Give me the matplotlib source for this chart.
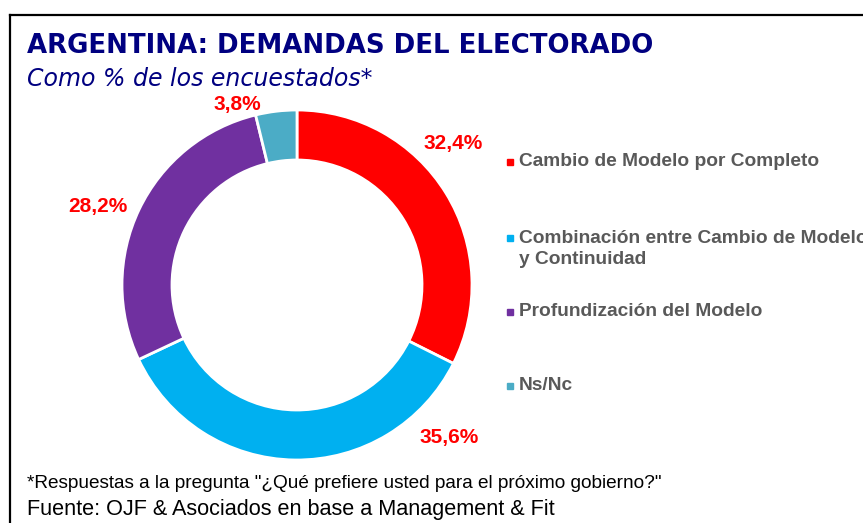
import matplotlib
matplotlib.use("Agg")
import matplotlib.pyplot as plt
from matplotlib import font_manager
from matplotlib.lines import Line2D
from matplotlib.patches import Rectangle

# data
labels = ['Cambio de Modelo por Completo',
          'Combinación entre Cambio de Modelo\ny Continuidad',
          'Profundización del Modelo',
          'Ns/Nc']
values = [32.4, 35.6, 28.2, 3.8]
colors = ['#FF0000', '#00B0F0', '#7030A0', '#4BACC6']

# where excel left the data labels (data units, radius = 1)
label_xy = [(0.89, 0.81), (0.87, -0.87), (-1.14, 0.45), (-0.34, 1.03)]

names = {f.name for f in font_manager.fontManager.ttflist}
narrow = 'Liberation Sans Narrow' in names
foot_font = 'Liberation Sans Narrow' if narrow else 'Liberation Sans'
foot_sizes = (16.4, 18.7) if narrow else (13.7, 15.6)

W, H = 863, 523
fig = plt.figure(figsize=(W / 100, H / 100), dpi=100)

# pie axes centred at (297, 285) px, outer radius 175 px
cx, cy, half = 297, 285, 200
ax = fig.add_axes([(cx - half) / W, (H - cy - half) / H, 2 * half / W, 2 * half / H])
wedges, _ = ax.pie(values, colors=colors, startangle=90, counterclock=False,
                   radius=1, wedgeprops=dict(width=50 / 175, edgecolor='white', linewidth=2))
lim = half / 175
ax.set_xlim(-lim, lim)
ax.set_ylim(-lim, lim)
ax.set_aspect('equal')
ax.axis('off')

for v, (x, y) in zip(values, label_xy):
    ax.text(x, y, f'{v:.1f}%'.replace('.', ','), ha='center', va='center',
            color='#FF0000', fontsize=15, fontweight='bold', family='Liberation Sans')

# frame (left and top edges only, the rest is cut off)
fig.add_artist(Line2D([9.5 / W, 9.5 / W], [0, 1 - 14.5 / H], color='black', lw=1.6,
                      transform=fig.transFigure))
fig.add_artist(Line2D([9.5 / W, 1], [1 - 14.5 / H, 1 - 14.5 / H], color='black', lw=1.6,
                      transform=fig.transFigure))

# titles
fig.text(27 / W, 1 - 46 / H, 'ARGENTINA: DEMANDAS DEL ELECTORADO', color='#000080',
         fontsize=18.75, fontweight='bold', family='DejaVu Sans', va='center')
fig.text(27 / W, 1 - 79 / H, 'Como % de los encuestados*', color='#000080',
         fontsize=17, style='italic', family='DejaVu Sans', va='center')

# legend
square_y = [162, 238, 312, 386]
text_y = [162, 249, 312, 386]
for lab, c, ys, yt in zip(labels, colors, square_y, text_y):
    fig.add_artist(Rectangle((507 / W, 1 - (ys + 3) / H), 6 / W, 6 / H, color=c,
                             transform=fig.transFigure))
    fig.text(519 / W, 1 - yt / H, lab, color='#595959', fontsize=13.75, fontweight='bold',
             family='Liberation Sans', va='center', linespacing=1.25)

# footnotes
fig.text(27 / W, 1 - 483 / H,
         '*Respuestas a la pregunta "¿Qué prefiere usted para el próximo gobierno?"',
         fontsize=foot_sizes[0], family=foot_font, va='center')
fig.text(27 / W, 1 - 510 / H, 'Fuente: OJF & Asociados en base a Management & Fit',
         fontsize=foot_sizes[1], family=foot_font, va='center')

fig.savefig('out.png', dpi=100)
